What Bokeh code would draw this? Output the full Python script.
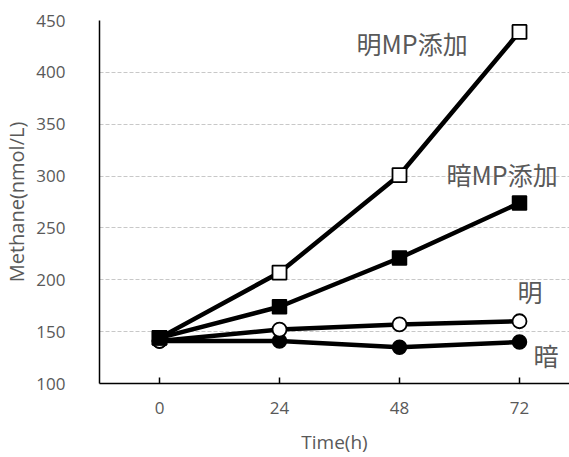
from bokeh.plotting import figure
from bokeh.models import Range1d, FixedTicker, Label
from bokeh.embed import file_html
from bokeh.resources import INLINE

# ---- data ----
time_h = [0, 24, 48, 72]
y_ticks = [100, 150, 200, 250, 300, 350, 400, 450]
light_mp = [144, 207, 301, 439]   # 明MP添加 (open squares)
dark_mp = [144, 174, 221, 274]    # 暗MP添加 (filled squares)
light = [141, 152, 157, 160]      # 明 (open circles)
dark = [141, 141, 135, 140]       # 暗 (filled circles)

label_texts = ["明MP添加", "暗MP添加", "明", "暗"]
label_x = [39.4, 57.4, 71.6, 74.8]
label_y = [428, 302, 189, 127]

GRAY = "#595959"

p = figure(width=569, height=457, output_backend="svg", toolbar_location=None,
           x_range=Range1d(-12, 82.0), y_range=Range1d(100, 450),
           min_border_left=95, min_border_right=0, min_border_top=20,
           min_border_bottom=71)

p.outline_line_color = None
p.background_fill_color = "white"
p.xgrid.visible = False
p.ygrid.grid_line_color = "#c8c8c8"
p.ygrid.grid_line_dash = "4 2"
p.ygrid.grid_line_width = 1

p.xaxis.ticker = FixedTicker(ticks=time_h)
p.yaxis.ticker = FixedTicker(ticks=y_ticks)

for ax in (p.xaxis[0], p.yaxis[0]):
    ax.axis_line_color = "black"
    ax.axis_line_width = 1.5
    ax.minor_tick_line_color = None
    ax.major_label_text_font = "Open Sans"
    ax.major_label_text_font_size = "17px"
    ax.major_label_text_color = GRAY
    ax.axis_label_text_font = "Open Sans"
    ax.axis_label_text_font_style = "normal"
    ax.axis_label_text_color = GRAY

p.yaxis.major_tick_line_color = None
p.yaxis.major_label_standoff = 28
p.yaxis.axis_label = "Methane(nmol/L)"
p.yaxis.axis_label_text_font_size = "20px"
p.yaxis.axis_label_standoff = 3

p.xaxis.major_tick_in = 6
p.xaxis.major_tick_out = 0
p.xaxis.major_tick_line_color = "black"
p.xaxis.major_tick_line_width = 1.5
p.xaxis.major_label_standoff = 18
p.xaxis.axis_label = "Time(h)"
p.xaxis.axis_label_text_font_size = "19px"
p.xaxis.axis_label_standoff = 12

LW = 4.5
p.line(time_h, dark, line_color="black", line_width=LW)
p.scatter(time_h, dark, marker="circle", size=14, fill_color="black", line_color="black", line_width=1.5)
p.line(time_h, light, line_color="black", line_width=LW)
p.scatter(time_h, light, marker="circle", size=14, fill_color="white", line_color="black", line_width=1.8)
p.line(time_h, light_mp, line_color="black", line_width=LW)
p.scatter(time_h, light_mp, marker="square", size=14, fill_color="white", line_color="black", line_width=1.8)
p.line(time_h, dark_mp, line_color="black", line_width=LW)
p.scatter(time_h, dark_mp, marker="square", size=14, fill_color="black", line_color="black", line_width=1.5)

for t, x, y in zip(label_texts, label_x, label_y):
    p.add_layout(Label(x=x, y=y, text=t, text_font="Noto Sans CJK JP",
                       text_font_size="25px", text_color=GRAY,
                       text_align="left", text_baseline="middle"))

open("out.html", "w").write(file_html(p, INLINE))
